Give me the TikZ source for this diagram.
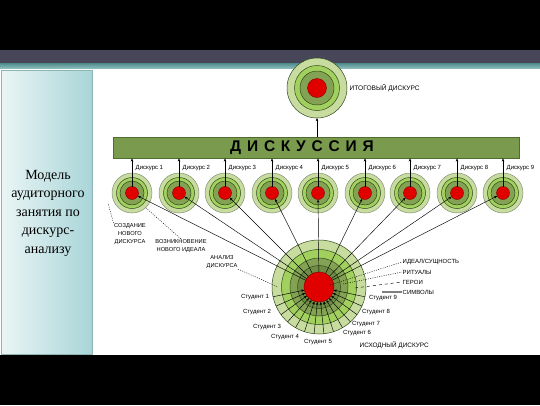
\documentclass[tikz,border=0pt]{standalone}
\usepackage{fontspec}
\setmainfont{Liberation Serif}
\newfontfamily\lsans{Liberation Sans}
\usetikzlibrary{arrows.meta,calc}
\definecolor{bandc}{HTML}{474759}
\definecolor{tealA}{HTML}{4E8A8A}
\definecolor{tealB}{HTML}{8FC0C0}
\definecolor{panelL}{HTML}{EAF5F5}
\definecolor{panelR}{HTML}{A9D5D8}
\definecolor{panelB}{HTML}{8FB4B6}
\definecolor{paleg}{HTML}{C9DC9F}
\definecolor{lightg}{HTML}{A2D05E}
\definecolor{oliveg}{HTML}{84A253}
\definecolor{darkol}{HTML}{6F8C45}
\definecolor{dline}{HTML}{2F4A1C}
\definecolor{redc}{HTML}{E00000}
\definecolor{barc}{HTML}{7A9B4E}
\definecolor{barline}{HTML}{4F6B30}
\begin{document}
\begin{tikzpicture}[x=1pt,y=-1pt,
  ring/.style={circle,inner sep=0pt,outer sep=0pt,draw=dline,line width=0.5pt},
  core/.style={circle,inner sep=0pt,outer sep=0pt,fill=redc,draw=red!50!black,line width=0.4pt},
  conn/.style={line width=0.45pt,-{Stealth[length=3.2pt,width=2.6pt]}},
  leader/.style={line width=0.45pt,dash pattern=on 1pt off 1.3pt},
  small/.style={font=\lsans\fontsize{6}{7}\selectfont,inner sep=0.5pt},
  lbl/.style={font=\lsans\fontsize{5.7}{7.6}\selectfont,inner sep=0.5pt,align=center}]
\useasboundingbox (0,0) rectangle (540,405);
% slide frame
\fill[black] (0,0) rectangle (540,405);
\fill[bandc] (0,50) rectangle (540,63);
\shade[top color=tealA,bottom color=tealB] (0,63) rectangle (540,68.5);
\fill[white] (0,68.5) rectangle (540,355);
\shade[left color=panelL,right color=panelR,draw=panelB,line width=0.8pt] (1.5,70) rectangle (92,354);
\node[font=\fontsize{14}{18.5}\selectfont,align=center,inner sep=0pt] (title) at (48,213)
  {Модель\\аудиторного\\занятия по\\дискурс-\\анализу};

% top circle (final discourse)
\node[ring,minimum size=60pt,fill=paleg] (Tout) at (317,88) {};
\node[ring,minimum size=45pt,fill=lightg] (Tg) at (317,88) {};
\node[ring,minimum size=34pt,fill=oliveg] (Tv) at (317,88) {};
\node[core,minimum size=19pt] (T) at (317,88) {};
\node[small,anchor=west,font=\lsans\fontsize{6.6}{7}\selectfont] (Tlab) at (349,88) {ИТОГОВЫЙ ДИСКУРС};

% discussion bar
\node[draw=barline,fill=barc,line width=0.6pt,minimum width=406pt,minimum height=21pt,inner sep=0pt] (bar) at (316,147.5) {};
\node[font=\lsans\bfseries\fontsize{15.5}{16}\selectfont,inner sep=0pt] (bartxt) at (302,147.5)
  {Д\kern5.8pt И\kern5.8pt С\kern5.8pt К\kern5.8pt У\kern5.8pt С\kern5.8pt С\kern5.8pt И\kern5.8pt Я};

% big circle (initial discourse)
\node[ring,minimum size=94pt,fill=paleg] (Bout) at (319,287) {};
\node[ring,minimum size=75pt,fill=lightg] (Bg) at (319,287) {};
\node[ring,minimum size=58pt,fill=oliveg] (Bv) at (319,287) {};
\node[ring,minimum size=43pt,fill=darkol] (Bd) at (319,287) {};

% small circles
\foreach \x [count=\i] in {132,179,225,272,318,365,410,457,503}{
  \node[ring,minimum size=40pt,fill=paleg,draw=dline!60] (o\i) at (\x,193) {};
  \node[ring,minimum size=31pt,fill=lightg] (g\i) at (\x,193) {};
  \node[ring,minimum size=24pt,fill=oliveg] (v\i) at (\x,193) {};
  \node[core,minimum size=13pt] (s\i) at (\x,193) {};
  \node[small,anchor=west] (d\i) at (\x+3,168) {Дискурс \i};
}

% lower half: students' arrows into the core
\foreach \a [count=\k] in {12,24,...,168}{
  \coordinate (st\k) at ($(Bout.center)+(\a:47)$);
}
\node[core,minimum size=30pt] (B) at (319,287) {};
\foreach \k in {1,...,14}{
  \draw[conn] (st\k) -- (B);
}

% connectors from the initial discourse to each small discourse
\foreach \i in {1,...,9}{
  \draw[conn] (B) -- (s\i);
  \draw[conn] (s\i) -- (s\i |- bar.south);
}
\draw[conn] (bar.north -| Tout) -- (Tout);

% left labels
\node[lbl] (L1) at (130,234) {СОЗДАНИЕ\\НОВОГО\\ДИСКУРСА};
\node[lbl] (L2) at (181,246) {ВОЗНИКНОВЕНИЕ\\НОВОГО ИДЕАЛА};
\node[lbl] (L3) at (222,262) {АНАЛИЗ\\ДИСКУРСА};
\coordinate (p1) at (108,203);
\coordinate (p2) at (146,208);
\coordinate (p3) at (278,287);
\draw[leader] (L1.north west) -- (p1);
\draw[leader] (L2.north) -- (p2);
\draw[leader] (L3.south east) -- (p3);

% right labels
\node[small,anchor=west] (R1) at (402,262) {ИДЕАЛ/СУЩНОСТЬ};
\node[small,anchor=west] (R2) at (402,272) {РИТУАЛЫ};
\node[small,anchor=west] (R3) at (402,282) {ГЕРОИ};
\node[small,anchor=west] (R4) at (402,292) {СИМВОЛЫ};
\coordinate (q1) at (330,285);
\coordinate (q2) at (343,284);
\coordinate (q3) at (355,288);
\coordinate (q4) at (382,292);
\draw[leader] (q1) -- (R1.west);
\draw[leader] (q2) -- (R2.west);
\draw[line width=0.45pt,dashed] (q3) -- (R3.west);
\draw[line width=1.2pt,gray] (q4) -- (R4.west);

% students
\node[small] (S1) at (255,297) {Студент 1};
\node[small] (S2) at (257,312) {Студент 2};
\node[small] (S3) at (267,327) {Студент 3};
\node[small] (S4) at (285,337) {Студент 4};
\node[small] (S5) at (318,342) {Студент 5};
\node[small] (S6) at (357,333) {Студент 6};
\node[small] (S7) at (366,324) {Студент 7};
\node[small] (S8) at (376,312) {Студент 8};
\node[small] (S9) at (383,298) {Студент 9};
\node[small,anchor=west,font=\lsans\fontsize{6.4}{7}\selectfont] (Blab) at (359,345) {ИСХОДНЫЙ ДИСКУРС};
\end{tikzpicture}
\end{document}
